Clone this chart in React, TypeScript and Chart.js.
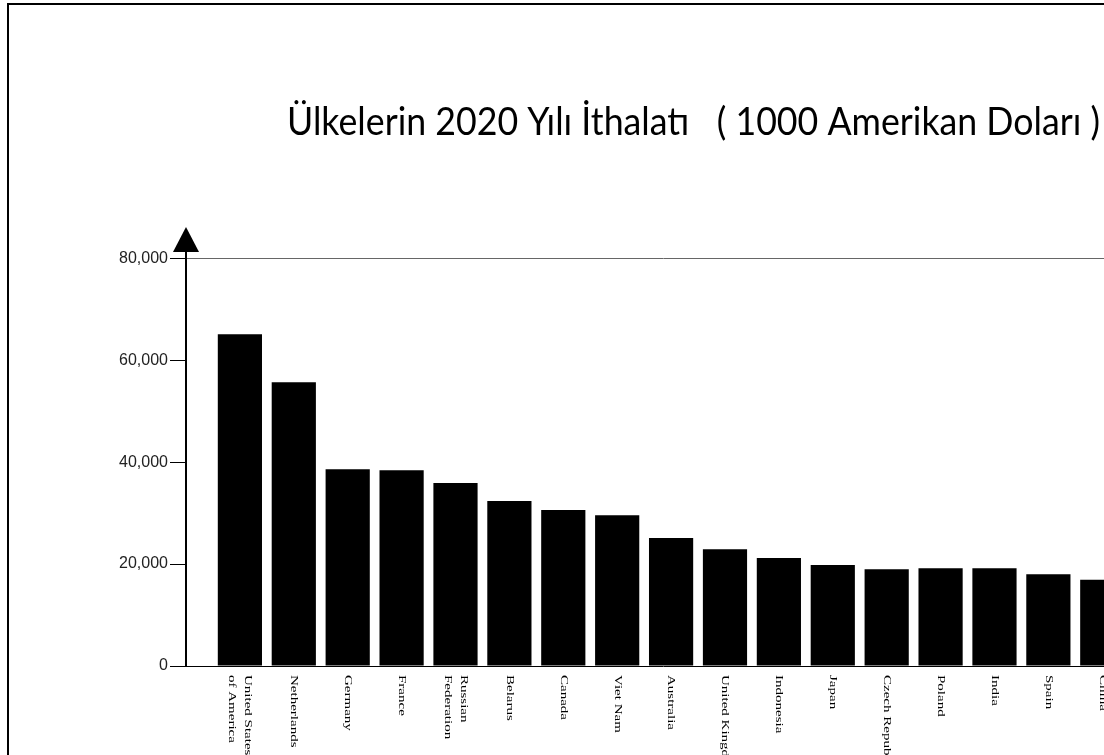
import React, { useEffect, useRef } from "react";
import { Chart, registerables } from "chart.js";

Chart.register(...registerables);

const TITLE = "Ülkelerin 2020 Yılı İthalatı   ( 1000 Amerikan Doları )";

const countries: string[][] = [
  ["United States", "of America"],
  ["Netherlands"],
  ["Germany"],
  ["France"],
  ["Russian", "Federation"],
  ["Belarus"],
  ["Canada"],
  ["Viet Nam"],
  ["Australia"],
  ["United Kingdom"],
  ["Indonesia"],
  ["Japan"],
  ["Czech Republic"],
  ["Poland"],
  ["India"],
  ["Spain"],
  ["China"],
];

const imports2020: number[] = [
  65100, 55700, 38600, 38400, 35900, 32400, 30600, 29600, 25100, 22900, 21200,
  19800, 19000, 19200, 19200, 18000, 16900,
];

const yTicks: number[] = [0, 20000, 40000, 60000, 80000];

export default function App() {
  const ref = useRef<HTMLCanvasElement>(null);

  useEffect(() => {
    const canvas = ref.current;
    if (!canvas) return;

    const titlePlugin = {
      id: "scanTitle",
      afterDraw(chart: any) {
        const ctx = chart.ctx;
        ctx.save();
        ctx.font = "38px Lato";
        ctx.fillStyle = "#000";
        ctx.textBaseline = "alphabetic";
        ctx.textAlign = "left";
        const w = ctx.measureText(TITLE).width;
        const sx = 813 / w;
        ctx.translate(287, 135);
        ctx.scale(sx, 1);
        ctx.fillText(TITLE, 0, 0);
        ctx.restore();
      },
    };

    const labelPlugin = {
      id: "verticalLabels",
      afterDraw(chart: any) {
        const ctx = chart.ctx;
        const xs = chart.scales.x;
        const top = chart.chartArea.bottom + 9;
        const lh = 16;
        ctx.save();
        ctx.font = '10px "Liberation Serif"';
        ctx.fillStyle = "#000";
        ctx.textAlign = "left";
        ctx.textBaseline = "middle";
        countries.forEach((lines, i) => {
          const x = xs.getPixelForValue(i + 1);
          ctx.save();
          ctx.translate(x, top);
          ctx.rotate(Math.PI / 2);
          ctx.scale(1.5, 1);
          lines.forEach((line, j) => {
            const off = (j - (lines.length - 1) / 2) * lh;
            ctx.fillText(line, 0, off);
          });
          ctx.restore();
        });
        ctx.restore();
      },
    };

    const arrowPlugin = {
      id: "axisArrow",
      afterDraw(chart: any) {
        const ctx = chart.ctx;
        const x = chart.chartArea.left;
        const t = chart.chartArea.top;
        ctx.save();
        ctx.fillStyle = "#000";
        ctx.beginPath();
        ctx.moveTo(x, t - 16);
        ctx.lineTo(x - 13, t + 9);
        ctx.lineTo(x + 13, t + 9);
        ctx.closePath();
        ctx.fill();
        ctx.restore();
      },
    };

    const chart = new Chart(canvas, {
      type: "bar",
      data: {
        datasets: [
          {
            data: imports2020.map((v, i) => ({ x: i + 1, y: v })),
            backgroundColor: "#000",
            borderWidth: 0,
            barPercentage: 0.82,
            categoryPercentage: 1,
          },
        ],
      },
      options: {
        responsive: false,
        animation: false,
        layout: { padding: { top: 243, left: 0, right: 0, bottom: 0 } },
        plugins: {
          legend: { display: false },
          tooltip: { enabled: false },
          title: { display: false },
        },
        scales: {
          x: {
            type: "linear",
            min: 0,
            max: 17.7,
            offset: false,
            ticks: { display: false },
            grid: { display: false },
            border: { display: true, color: "#000", width: 1 },
            afterFit(s: any) {
              s.height = 89;
            },
          },
          y: {
            min: 0,
            max: 83000,
            afterBuildTicks(s: any) {
              s.ticks = yTicks.map((v) => ({ value: v }));
            },
            ticks: {
              callback: (v: any) => Number(v).toLocaleString("en-US"),
              font: { family: "Liberation Sans", size: 16 },
              color: "#222",
              padding: 2,
            },
            grid: {
              color: (c: any) =>
                c.tick && c.tick.value === 80000 ? "#666" : "rgba(0,0,0,0)",
              borderDash: [1, 2],
              tickColor: "#000",
              tickLength: 16,
              tickBorderDash: [],
              lineWidth: 1,
            },
            border: { display: true, color: "#000", width: 2 },
            afterFit(s: any) {
              s.width = 186;
            },
          },
        },
      } as any,
      plugins: [titlePlugin, labelPlugin, arrowPlugin],
    });

    return () => chart.destroy();
  }, []);

  return (
    <div
      style={{
        position: "fixed",
        left: 0,
        top: 0,
        width: 1104,
        height: 755,
        overflow: "hidden",
        background: "#fff",
      }}
    >
      <canvas
        ref={ref}
        width={1140}
        height={755}
        style={{ position: "absolute", left: 0, top: 0 }}
      />
      <div
        style={{
          position: "absolute",
          left: 7,
          top: 3,
          width: 2,
          height: 752,
          background: "#000",
        }}
      />
      <div
        style={{
          position: "absolute",
          left: 7,
          top: 3,
          width: 1097,
          height: 2,
          background: "#000",
        }}
      />
    </div>
  );
}
